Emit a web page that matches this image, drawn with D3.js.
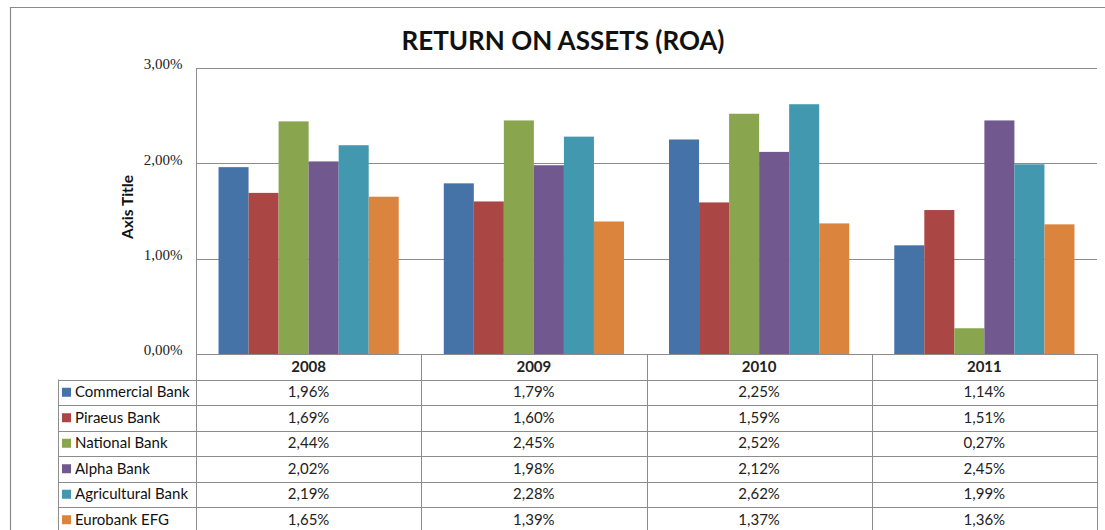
<!DOCTYPE html>
<html><head><meta charset="utf-8">
<script src="https://cdn.jsdelivr.net/npm/d3@7"></script>
<style>body{margin:0;background:#fff}svg{display:block}</style>
</head><body>
<svg id="c" width="1105" height="530"></svg>
<script>
const years = ["2008","2009","2010","2011"];
const banks = ["Commercial Bank","Piraeus Bank","National Bank","Alpha Bank","Agricultural Bank","Eurobank EFG"];
const commercial = [1.96,1.79,2.25,1.14];
const piraeus = [1.69,1.60,1.59,1.51];
const national = [2.44,2.45,2.52,0.27];
const alpha = [2.02,1.98,2.12,2.45];
const agricultural = [2.19,2.28,2.62,1.99];
const eurobank = [1.65,1.39,1.37,1.36];
const yTicks = [0,1,2,3];
const colors = ["#4572A7","#AA4643","#89A54E","#71588F","#4198AF","#DB843D"];
const series = [commercial,piraeus,national,alpha,agricultural,eurobank];
const fmt = v => v.toFixed(2).replace(".", ",") + "%";

const svg = d3.select("#c");
const L = 196, R = 1097, T = 68, B = 354;
const tblLeft = 58, rowH = 25.5;
const gridCol = "#8c8c8c";
const sans = "Lato, 'Open Sans', sans-serif";

// outer border
svg.append("path").attr("d", `M10.5,540 V7.5 H1110`).attr("fill","none").attr("stroke","#8a8a8a").attr("stroke-width",1.2);

// title
svg.append("text").attr("x",563).attr("y",50).attr("text-anchor","middle")
  .attr("font-family",sans).attr("font-weight","bold").attr("font-size",26)
  .attr("fill","#111").text("RETURN ON ASSETS (ROA)");

const y = d3.scaleLinear().domain([0,3]).range([B,T]);
const x0 = d3.scaleBand().domain(years).range([L,R]).paddingInner(0.2).paddingOuter(0.1);
const x1 = d3.scaleBand().domain(d3.range(banks.length)).range([0,x0.bandwidth()]);

// gridlines
svg.append("g").selectAll("line").data(yTicks.filter(t=>t>0)).join("line")
  .attr("x1",L).attr("x2",R).attr("y1",d=>Math.round(y(d))+0.5).attr("y2",d=>Math.round(y(d))+0.5)
  .attr("stroke",gridCol).attr("stroke-width",1);

// y axis
const ya = svg.append("g").attr("transform",`translate(${L+0.5},0)`)
  .call(d3.axisLeft(y).tickValues(yTicks).tickFormat(fmt).tickSize(0).tickPadding(14));
ya.select(".domain").remove();
ya.selectAll("text").attr("font-family","'Liberation Serif', serif").attr("font-size",15).attr("fill","#222").attr("dy","0.05em");
svg.append("line").attr("x1",L+0.5).attr("x2",L+0.5).attr("y1",T).attr("y2",B).attr("stroke",gridCol);

// axis title
svg.append("text").attr("transform","translate(133,207) rotate(-90)").attr("text-anchor","middle")
  .attr("font-family",sans).attr("font-weight","bold").attr("font-size",15.5)
  .attr("fill","#111").text("Axis Title");

// bars
const g = svg.append("g");
years.forEach((yr,i)=>{
  g.append("g").attr("transform",`translate(${x0(yr)},0)`).selectAll("rect")
    .data(series.map((s,k)=>({k,v:s[i]}))).join("rect")
    .attr("x",d=>x1(d.k)).attr("width",x1.bandwidth())
    .attr("y",d=>y(d.v)).attr("height",d=>B-y(d.v)).attr("fill",d=>colors[d.k]);
});

// table lines
const tl = svg.append("g").attr("stroke",gridCol).attr("stroke-width",1).attr("fill","none");
const hLines = d3.range(banks.length+2).map(i=>B+i*rowH);
hLines.forEach((yy,i)=>{
  tl.append("line").attr("x1", i===0 ? L : tblLeft).attr("x2",R)
    .attr("y1",Math.round(yy)+0.5).attr("y2",Math.round(yy)+0.5);
});
// vertical lines (table only)
const bounds = [L].concat(years.map(yr=>x0(yr)+x0.bandwidth()+x0.step()*x0.paddingInner()/2));
bounds[bounds.length-1] = R;
bounds.forEach(bx=>{
  tl.append("line").attr("x1",Math.round(bx)+0.5).attr("x2",Math.round(bx)+0.5)
    .attr("y1",B).attr("y2",540);
});
tl.append("line").attr("x1",tblLeft+0.5).attr("x2",tblLeft+0.5).attr("y1",B+rowH).attr("y2",540);

// header years
svg.append("g").selectAll("text").data(years).join("text")
  .attr("x",d=>x0(d)+x0.bandwidth()/2).attr("y",B+rowH/2+5.5).attr("text-anchor","middle")
  .attr("font-family",sans).attr("font-weight","bold").attr("font-size",15).attr("fill","#222")
  .text(d=>d);

// rows
banks.forEach((b,k)=>{
  const cy = B+rowH*(k+1)+rowH/2;
  svg.append("rect").attr("x",62).attr("y",cy-4.5).attr("width",9).attr("height",9).attr("fill",colors[k]);
  svg.append("text").attr("x",75).attr("y",cy+5)
    .attr("font-family",sans).attr("font-size",15).attr("fill","#111").text(b);
  years.forEach((yr,i)=>{
    svg.append("text").attr("x",x0(yr)+x0.bandwidth()/2).attr("y",cy+5).attr("text-anchor","middle")
      .attr("font-family",sans).attr("font-size",15).attr("fill","#222")
      .text(fmt(series[k][i]));
  });
});
</script>
</body></html>
